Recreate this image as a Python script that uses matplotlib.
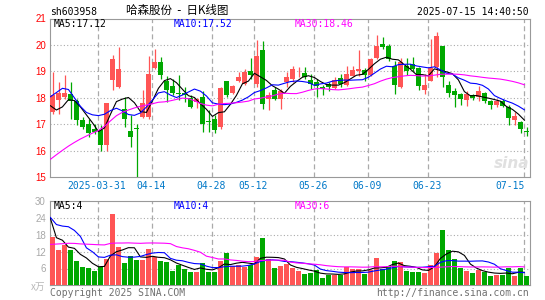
import numpy as np
import matplotlib.pyplot as plt

# daily K line, 2025-03-19 .. 2025-07-15 (80 trading days)
opens = [17.46, 17.90, 18.03, 18.13, 17.86, 17.14, 16.99, 16.81, 16.77, 16.20,
         18.69, 18.40, 17.56, 16.73, 16.84, 17.27, 17.27, 19.12, 19.37, 18.65,
         18.44, 18.17, 18.18, 17.99, 17.84, 18.03, 17.12, 17.18, 16.89, 18.62,
         18.19, 18.65, 18.53, 19.03, 18.53, 19.79, 17.96, 18.28, 17.96, 18.59,
         18.72, 18.96, 18.94, 18.68, 18.59, 18.40, 18.53, 18.37, 18.74, 18.50,
         18.84, 19.03, 19.04, 18.88, 19.50, 20.04, 19.97, 19.22, 18.40, 19.22,
         19.28, 19.12, 18.28, 18.65, 19.16, 19.97, 18.47, 18.24, 18.15, 17.90,
         18.09, 18.03, 18.19, 17.86, 17.71, 17.86, 17.65, 17.14, 17.08, 16.75]
closes = [18.09, 18.19, 18.19, 17.86, 17.14, 16.89, 16.68, 16.70, 16.20, 17.81,
          19.47, 19.09, 17.18, 16.50, 16.82, 17.81, 18.91, 19.37, 18.87, 18.28,
          18.19, 18.15, 18.12, 17.65, 17.94, 17.02, 17.09, 16.77, 18.37, 18.09,
          18.44, 18.77, 18.97, 18.88, 19.57, 17.77, 18.09, 17.96, 18.24, 18.78,
          19.09, 18.99, 18.78, 18.53, 18.44, 18.34, 18.40, 18.68, 18.53, 18.91,
          19.04, 19.10, 18.85, 19.47, 19.97, 19.91, 19.47, 18.47, 19.35, 19.03,
          19.09, 18.44, 18.47, 19.12, 20.35, 18.78, 18.19, 18.12, 17.94, 18.13,
          17.99, 18.24, 17.86, 17.71, 17.86, 17.69, 17.23, 17.31, 16.81, 16.72]
highs = [18.99, 18.59, 18.87, 18.59, 17.96, 17.27, 17.21, 17.02, 16.96, 17.81,
         19.62, 19.91, 18.03, 17.33, 17.02, 18.28, 19.57, 19.83, 19.53, 18.84,
         18.72, 18.87, 18.40, 18.09, 18.00, 18.24, 17.55, 17.33, 18.40, 18.65,
         18.47, 18.97, 19.09, 19.50, 20.20, 20.13, 18.21, 18.40, 18.34, 18.97,
         19.22, 19.16, 19.16, 18.91, 18.72, 18.47, 18.59, 18.78, 18.91, 19.22,
         19.22, 19.82, 19.13, 19.50, 20.38, 20.31, 20.04, 19.41, 19.50, 19.50,
         19.53, 19.16, 18.91, 20.23, 20.48, 19.97, 18.65, 18.37, 18.19, 18.24,
         18.15, 18.43, 18.21, 17.90, 17.96, 17.96, 17.71, 17.46, 17.11, 16.91]
lows = [17.37, 17.37, 17.96, 17.21, 16.96, 16.83, 16.52, 16.64, 15.99, 15.99,
        18.28, 18.36, 16.89, 16.14, 15.00, 17.25, 17.21, 19.07, 18.72, 17.84,
        18.09, 17.90, 17.84, 17.61, 17.61, 16.70, 16.70, 16.68, 16.83, 18.03,
        18.15, 18.59, 18.47, 18.72, 18.40, 17.58, 17.55, 17.90, 17.58, 18.40,
        18.59, 18.78, 18.72, 18.34, 18.03, 18.09, 18.24, 18.34, 18.40, 18.44,
        18.81, 18.84, 18.62, 18.81, 19.47, 19.85, 19.41, 18.13, 18.36, 18.87,
        19.03, 18.28, 18.15, 18.62, 18.78, 18.40, 18.03, 17.65, 17.74, 17.69,
        17.90, 17.86, 17.81, 17.58, 17.65, 17.65, 16.98, 16.98, 16.68, 16.55]
volumes = [17.3, 12.7, 14.5, 12.7, 8.8, 6.5, 6.3, 5.0, 6.5, 9.4,
           25.3, 13.8, 8.1, 10.6, 9.2, 9.0, 13.0, 10.0, 8.8, 8.5,
           5.2, 7.3, 6.0, 4.9, 4.9, 7.9, 4.9, 4.9, 8.8, 11.5,
           6.9, 7.4, 6.4, 7.4, 10.1, 16.9, 9.4, 6.2, 6.9, 7.6,
           6.2, 5.2, 4.0, 4.4, 5.5, 2.6, 3.8, 3.8, 3.8, 6.4,
           5.7, 5.8, 4.0, 5.6, 9.8, 6.0, 6.8, 8.8, 8.3, 5.2,
           4.8, 4.8, 4.4, 7.4, 11.5, 19.9, 12.7, 9.4, 6.2, 5.2,
           4.4, 5.6, 4.8, 3.5, 3.6, 3.8, 6.2, 3.5, 6.2, 3.5]

# estimated closes / volumes of the 29 days before the window (feed the MAs)
pre_closes = [13.0, 13.2, 13.1, 12.9, 13.0, 13.3, 13.4, 13.2, 13.1, 13.3,
              13.2, 13.3, 13.9, 14.5, 15.9, 17.5, 17.9, 17.2, 17.8, 17.0,
              16.6, 16.6, 18.3, 20.3, 20.1, 19.0, 17.6, 16.5, 17.3]
pre_volumes = [9, 11, 8, 10, 12, 9, 8, 10, 11, 9,
               10, 8, 9, 12, 11, 10, 9, 10, 10, 10,
               38, 20, 15, 22, 28, 47, 19, 25, 11]

date_labels = ['2025-03-31', '04-14', '04-28', '05-12', '05-26', '06-09', '06-23', '07-15']
date_index = [8, 17, 27, 34, 44, 53, 63, 79]

price_ticks = [15, 16, 17, 18, 19, 20, 21]
vol_ticks = [6, 12, 18, 24, 30]
ma_periods = [5, 10, 30]
ma_colors = ['black', '#0000ff', '#ff00ff']
ma_text = ['MA5:17.12', 'MA10:17.52', 'MA30:18.46']
vol_ma_text = ['MA5:4', 'MA10:4', 'MA30:6']
ma_text_x = [54, 174, 295]

RED = '#ff5555'
GREEN = '#00a800'
GRID = '#aaaaaa'
MONO = 'DejaVu Sans Mono'
CJK = ['Noto Sans CJK SC', 'DejaVu Sans']


def moving_avg(prev, seq, n):
    full = np.array(prev + seq, dtype=float)
    m = np.convolve(full, np.ones(n) / n, mode='valid')
    return m[-len(seq):]


W, H = 545, 300
fig = plt.figure(figsize=(W / 100, H / 100), dpi=100)
ax = fig.add_axes([50 / W, (H - 177) / H, 479.5 / W, 158.5 / H])
axv = fig.add_axes([50 / W, (H - 285.3) / H, 479.5 / W, 84 / H])

x = np.arange(len(closes))
colors = [RED if c >= o else GREEN for o, c in zip(opens, closes)]

# candles
ax.vlines(x, lows, highs, colors=colors, lw=0.9, zorder=3)
body = [max(abs(c - o), 0.03) for o, c in zip(opens, closes)]
ax.bar(x, body, bottom=np.minimum(opens, closes), width=0.82, color=colors, zorder=3)

# volume bars
axv.bar(x, volumes, width=0.82, color=colors, zorder=3)

# moving averages (drawn at the left side of each day slot)
for n, col in zip(ma_periods, ma_colors):
    ax.plot(x - 0.35, moving_avg(pre_closes, closes, n), color=col, lw=0.8, zorder=4)
    axv.plot(x - 0.35, moving_avg(pre_volumes, volumes, n), color=col, lw=0.8, zorder=4)

for a in (ax, axv):
    a.set_xlim(-0.42, 79.5)
    a.set_xticks([])
    for s in a.spines.values():
        s.set_color('#999999')
        s.set_linewidth(0.8)
    for i in date_index:
        a.axvline(i - 0.35, color=GRID, lw=0.9, ls=(0, (4, 2.5)), zorder=1)
    a.tick_params(axis='y', length=0, pad=3)

ax.set_ylim(15, 21)
ax.set_yticks(price_ticks)
ax.set_yticklabels([str(t) for t in price_ticks], color='#ff0000',
                   fontsize=7, family='Liberation Sans')
for t in price_ticks[1:-1]:
    ax.axhline(t, color=GRID, lw=0.8, ls=(0, (1, 2)), zorder=1)

axv.set_ylim(0, 30)
axv.set_yticks(vol_ticks)
axv.set_yticklabels([str(t) for t in vol_ticks], color='#a8a8a8',
                    fontsize=7, family='Liberation Sans')
for t in vol_ticks[:-1]:
    axv.axhline(t, color=GRID, lw=0.8, ls=(0, (1, 2)), zorder=1)

# date labels under the price panel
tr = ax.get_xaxis_transform()
for lab, i in zip(date_labels, date_index):
    if i == date_index[-1]:
        ax.text(i - 0.35, -0.057, lab, transform=tr, ha='right', va='center',
                fontsize=7, family=MONO, color='#0078c8')
    else:
        ax.text(i - 0.6, -0.057, lab, transform=tr, ha='center', va='center',
                fontsize=7, family=MONO, color='#0078c8')

# header texts
fig.text(50 / W, 1 - 12 / H, 'sh603958', fontsize=7, family=MONO, va='center')
fig.text(177 / W, 1 - 10 / H, '哈森股份  -  日K线图', fontsize=8.3,
         family=CJK, ha='center', va='center')
fig.text(529 / W, 1 - 12 / H, '2025-07-15 14:40:50', fontsize=7, family=MONO,
         ha='right', va='center')

for txt, col, px in zip(ma_text, ma_colors, ma_text_x):
    fig.text(px / W, 1 - 24 / H, txt, fontsize=7, family=MONO, color=col, va='center')
for txt, col, px in zip(vol_ma_text, ma_colors, ma_text_x):
    fig.text(px / W, 1 - 206 / H, txt, fontsize=7, family=MONO, color=col, va='center')

# footer
fig.text(45 / W, 1 - 287 / H, 'x万', fontsize=7, color='#b8b8b8', ha='right', va='center',
         family=CJK, style='italic')
fig.text(50 / W, 1 - 293 / H, 'Copyright 2025 SINA.COM', fontsize=7, family=MONO,
         color='#707070', va='center')
fig.text(529 / W, 1 - 293 / H, 'http://finance.sina.com.cn', fontsize=7, family=MONO,
         color='#707070', ha='right', va='center')

# faint sina watermark
fig.text(512 / W, 1 - 163 / H, 'sina', fontsize=11, color='#e0e0e0', ha='center',
         va='center', style='italic', weight='bold', family='DejaVu Sans')

fig.savefig('out.png', dpi=100)
